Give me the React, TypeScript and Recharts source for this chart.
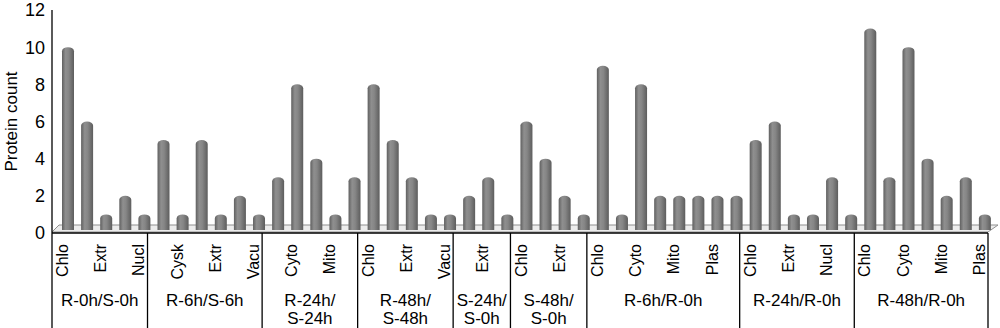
import React from 'react';
import { BarChart, Bar, XAxis, YAxis } from 'recharts';

// ---- data ----
const groupSizes = [5, 6, 5, 5, 3, 4, 8, 6, 7];
const groupLine1 = ['R-0h/S-0h', 'R-6h/S-6h', 'R-24h/', 'R-48h/', 'S-24h/', 'S-48h/', 'R-6h/R-0h', 'R-24h/R-0h', 'R-48h/R-0h'];
const groupLine2 = ['', '', 'S-24h', 'S-48h', 'S-0h', 'S-0h', '', '', ''];

const locations = [
  'Chlo', 'Cyto', 'Extr', 'Mito', 'Nucl',
  'Chlo', 'Cysk', 'Cyto', 'Extr', 'Mito', 'Vacu',
  'Chlo', 'Cyto', 'Extr', 'Mito', 'Plas',
  'Chlo', 'Cyto', 'Extr', 'Mito', 'Vacu',
  'Chlo', 'Extr', 'Mito',
  'Chlo', 'Cyto', 'Extr', 'Mito',
  'Chlo', 'Cysk', 'Cyto', 'Extr', 'Mito', 'Nucl', 'Plas', 'Vacu',
  'Chlo', 'Cyto', 'Extr', 'Mito', 'Nucl', 'Vacu',
  'Chlo', 'Cysk', 'Cyto', 'Extr', 'Mito', 'Nucl', 'Plas',
];
const counts = [
  10, 6, 1, 2, 1,
  5, 1, 5, 1, 2, 1,
  3, 8, 4, 1, 3,
  8, 5, 3, 1, 1,
  2, 3, 1,
  6, 4, 2, 1,
  9, 1, 8, 2, 2, 2, 2, 2,
  5, 6, 1, 1, 3, 1,
  11, 3, 10, 4, 2, 3, 1,
];
const yTicks = [0, 2, 4, 6, 8, 10, 12];

const data = locations.map((loc, i) => ({ id: i, loc, count: counts[i] }));

// group index of each bar
const groupStart: number[] = [];
groupSizes.reduce((acc, n) => { groupStart.push(acc); return acc + n; }, 0);
const groupOf = (i: number) => {
  let g = 0;
  for (let k = 0; k < groupStart.length; k++) if (i >= groupStart[k]) g = k;
  return g;
};

// ---- layout ----
const W = 1000;
const H = 328;
const M = { top: 10, right: 12, left: 0, bottom: 0 };
const Y_W = 52;
const X_H = 95;
const plotLeft = M.left + Y_W;
const plotRight = W - M.right;
const plotBottom = H - M.bottom - X_H;
const FONT = '"Liberation Sans", Arial, sans-serif';
const DEPTH_X = 6;

const XTick = (props: any) => {
  const { x, y, payload } = props;
  const i = Number(payload.value);
  const half = payload.offset || (plotRight - plotLeft) / data.length / 2;
  const g = groupOf(i);
  const els: React.ReactNode[] = [];
  if (i % 2 === 0) {
    els.push(
      <text key="s" x={0} y={0} transform={`translate(${x + 6.5},${y + 11}) rotate(-90)`} textAnchor="end"
        fontFamily={FONT} fontSize={16} fill="#000">{locations[i]}</text>
    );
  }
  if (i === groupStart[g]) {
    els.push(<line key="l" x1={x - half} x2={x - half} y1={y} y2={H} stroke="#000" strokeWidth={1.3} />);
    const cx = x - half + groupSizes[g] * half;
    els.push(
      <text key="g1" x={cx} y={y + 73} textAnchor="middle" fontFamily={FONT} fontSize={17} fill="#000">{groupLine1[g]}</text>
    );
    if (groupLine2[g]) {
      els.push(
        <text key="g2" x={cx} y={y + 91} textAnchor="middle" fontFamily={FONT} fontSize={17} fill="#000">{groupLine2[g]}</text>
      );
    }
  }
  if (i === data.length - 1) {
    els.push(<line key="r" x1={x + half} x2={x + half} y1={y} y2={H} stroke="#000" strokeWidth={1.3} />);
  }
  return <g>{els}</g>;
};

const Cylinder = (props: any) => {
  const { x, y, width, height } = props;
  if (!height || height <= 0) return null;
  const x0 = x + DEPTH_X;
  const x1 = x0 + width;
  const bottom = y + height - 3;
  const cap = 4;
  const d = `M${x0},${bottom} L${x0},${y + cap} A${width / 2},${cap} 0 0 1 ${x1},${y + cap} L${x1},${bottom} Z`;
  return <path d={d} fill="url(#cylGrad)" />;
};

const YLabel = (props: any) => {
  const vb = props.viewBox || { x: 0, y: M.top, height: plotBottom - M.top };
  const cx = vb.x + 11;
  const cy = vb.y + vb.height / 2;
  return (
    <text x={0} y={0} transform={`translate(${cx},${cy}) rotate(-90)`} textAnchor="middle" dominantBaseline="central"
      fontFamily={FONT} fontSize={17} fill="#000">Protein count</text>
  );
};

export default function App() {
  const floor = `${plotLeft},${plotBottom - 1} ${plotRight},${plotBottom - 1} ${plotRight + 10},${plotBottom - 8} ${plotLeft + 7},${plotBottom - 8}`;
  return (
    <div style={{ position: 'absolute', left: 0, top: 0, width: W, height: H, background: '#fff' }}>
      <svg width={W} height={H} style={{ position: 'absolute', left: 0, top: 0 }}>
        <polygon points={floor} fill="#ececec" stroke="#8f8f8f" strokeWidth={1} />
      </svg>
      <div style={{ position: 'absolute', left: 0, top: 0 }}>
        <BarChart width={W} height={H} data={data} margin={M} barCategoryGap={0}>
          <defs>
            <linearGradient id="cylGrad" x1="0" y1="0" x2="1" y2="0">
              <stop offset="0" stopColor="#606060" />
              <stop offset="0.3" stopColor="#8f8f8f" />
              <stop offset="0.55" stopColor="#868686" />
              <stop offset="1" stopColor="#5d5d5d" />
            </linearGradient>
          </defs>
          <XAxis dataKey="id" type="category" interval={0} tickLine={false} tickSize={0} tickMargin={0}
            axisLine={{ stroke: '#000', strokeWidth: 1.3 }} height={X_H} tick={<XTick />} />
          <YAxis domain={[0, 12]} ticks={yTicks} interval={0} width={Y_W} tickLine={false} tickSize={0} tickMargin={7}
            axisLine={{ stroke: '#000', strokeWidth: 1.3 }}
            tick={{ fontFamily: FONT, fontSize: 18, fill: '#000' }}
            label={{ content: <YLabel /> }} />
          <Bar dataKey="count" barSize={12} shape={<Cylinder />} isAnimationActive={false} />
        </BarChart>
      </div>
    </div>
  );
}
